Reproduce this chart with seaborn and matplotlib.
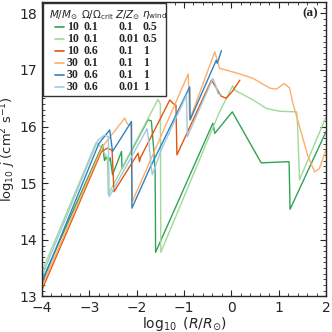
import numpy as np
import pandas as pd
import matplotlib
matplotlib.use("Agg")
import matplotlib.pyplot as plt
import seaborn as sns
from matplotlib.ticker import MultipleLocator
from matplotlib.patches import Rectangle
from matplotlib.lines import Line2D

# ---------------- data ----------------
masses = ["10", "10", "10", "30", "30", "30"]
omegas = ["0.1", "0.1", "0.6", "0.1", "0.6", "0.6"]
metals = ["0.1", "0.01", "0.1", "0.1", "0.1", "0.01"]
etas = ["0.5", "0.5", "1", "1", "1", "1"]

g1_x = [-4.0, -2.72, -2.68, -2.64, -2.60, -2.56, -2.51, -2.32, -2.31, -1.76, -1.69, -1.64, -1.61, -1.60,
        -0.39, -0.35, 0.02, 0.63, 1.22, 1.24, 2.0]
g1_y = [13.28, 15.68, 15.40, 15.47, 15.38, 15.45, 15.15, 15.56, 15.26, 16.12, 16.10, 15.60, 15.20, 13.78,
        16.06, 15.88, 16.26, 15.36, 15.38, 14.54, 15.91]

g2_x = [-4.0, -2.86, -2.80, -2.62, -2.60, -1.55, -1.50, -1.49, -0.25, 0.03, 0.08, 0.46, 0.74, 1.02, 1.38,
        1.40, 1.44, 2.0]
g2_y = [13.44, 15.71, 15.68, 15.45, 14.80, 16.48, 16.40, 13.78, 16.26, 16.72, 16.64, 16.47, 16.32, 16.27, 16.26,
        16.0, 15.06, 16.17]

o1_x = [-4.0, -2.75, -2.62, -2.52, -2.48, -1.97, -1.94, -1.92, -1.30, -1.22, -1.17, -1.15, -0.42, -0.33,
        -0.22, -0.11, 0.02, 0.18]
o1_y = [13.12, 15.55, 15.62, 15.58, 14.85, 15.53, 15.38, 15.45, 16.47, 16.40, 16.38, 15.50, 16.82, 16.70,
        16.54, 16.50, 16.62, 16.82]

o2_x = [-4.0, -2.72, -2.25, -2.20, -2.12, -2.09, -0.91, -0.88, -0.35, -0.25, 0.18, 0.46, 0.81, 0.95,
        1.05, 1.12, 1.23, 1.30, 1.44, 1.62, 1.76, 1.86, 2.0]
o2_y = [13.18, 15.65, 16.15, 16.05, 16.02, 14.68, 16.93, 16.12, 17.32, 17.03, 16.93, 16.85, 16.68, 16.66,
        16.72, 16.76, 16.68, 16.41, 16.00, 15.47, 15.20, 15.26, 15.59]

b1_x = [-4.0, -2.80, -2.57, -2.51, -2.11, -2.10, -1.72, -1.30, -0.88, -0.87, -0.32, -0.30, -0.28, -0.21]
b1_y = [13.24, 15.70, 15.94, 15.56, 16.09, 14.56, 15.27, 15.98, 16.70, 16.12, 17.17, 17.12, 17.16, 17.34]

b2_x = [-4.0, -2.82, -2.68, -2.60, -2.58, -1.78, -1.74, -1.70, -1.67, -1.48, -0.95, -0.93, -0.39, -0.33,
        -0.28, -0.21]
b2_y = [13.36, 15.76, 15.85, 15.82, 14.76, 15.96, 15.70, 15.35, 15.15, 15.59, 16.55, 15.82, 16.85, 16.72,
        16.58, 16.56]

series_x = [g1_x, g2_x, o1_x, o2_x, b1_x, b2_x]
series_y = [g1_y, g2_y, o1_y, o2_y, b1_y, b2_y]
names = ["g1", "g2", "o1", "o2", "b1", "b2"]

# ---------------- style ----------------
tab = sns.color_palette("tab20c")
colors = [tab[8], tab[10], tab[4], tab[6], tab[0], tab[2]]
palette = dict(zip(names, colors))

rows = []
for n, xs, ys in zip(names, series_x, series_y):
    for i, (x, y) in enumerate(zip(xs, ys)):
        rows.append({"series": n, "order": i, "x": x, "y": y})
df = pd.DataFrame(rows)

sns.set_style("ticks")
plt.rcParams["font.family"] = ["DejaVu Sans"]
plt.rcParams["mathtext.fontset"] = "dejavusans"

fig = plt.figure(figsize=(3.32, 3.32), dpi=100)
ax = fig.add_axes([0.1265, 0.107, 0.8555, 0.887])

sns.lineplot(data=df, x="x", y="y", hue="series", hue_order=names, palette=palette,
             sort=False, estimator=None, linewidth=1.0, legend=False, ax=ax)

ax.set_xlim(-4, 2)
ax.set_ylim(13, 18.2)
ax.xaxis.set_major_locator(MultipleLocator(1))
ax.xaxis.set_minor_locator(MultipleLocator(0.2))
ax.yaxis.set_major_locator(MultipleLocator(1))
ax.yaxis.set_minor_locator(MultipleLocator(0.1))
ax.tick_params(which="both", direction="in", top=True, right=True, labelsize=10)
ax.tick_params(axis="x", pad=3.5)
ax.tick_params(axis="y", pad=3.5)
ax.tick_params(which="major", length=4, width=0.8)
ax.tick_params(which="minor", length=2, width=0.6)
for s in ax.spines.values():
    s.set_linewidth(1.0)

ax.set_xlabel(r"$\log_{10}$ ($R/R_{\odot}$)", fontsize=10, labelpad=0)
ax.set_ylabel(r"$\log_{10}\,j$ (cm$^2$ s$^{-1}$)", fontsize=9.4)
ax.yaxis.set_label_coords(-0.083, 0.5)

# ---------------- legend (table) ----------------
ax.add_patch(Rectangle((0.005, 0.68), 0.432, 0.318, transform=ax.transAxes,
                       facecolor="white", edgecolor="#333333", linewidth=1.0, zorder=5))
hy = 0.956
hdr = [r"$M/M_{\odot}$", r"$\Omega/\Omega_{\rm crit}$", r"$Z/Z_{\odot}$", r"$\eta_{\rm wind}$"]
hx = [0.025, 0.138, 0.258, 0.352]
for t, x in zip(hdr, hx):
    ax.text(x, hy, t, transform=ax.transAxes, fontsize=7.5, ha="left", va="center", zorder=6)
row_y = [0.914, 0.874, 0.833, 0.793, 0.752, 0.712]
col_x = [0.087, 0.145, 0.269, 0.355]
for i, yy in enumerate(row_y):
    ax.add_line(Line2D([0.046, 0.077], [yy, yy], transform=ax.transAxes, color=colors[i],
                       linewidth=1.2, zorder=6))
    for cx, val in zip(col_x, [masses[i], omegas[i], metals[i], etas[i]]):
        ax.text(cx, yy, val, transform=ax.transAxes, fontsize=8.5, fontweight="bold",
                family="Liberation Serif", ha="left", va="center", zorder=6)

ax.text(0.972, 0.963, "(a)", transform=ax.transAxes, fontsize=9.5, fontweight="bold",
        family="Liberation Serif", ha="right", va="center")

fig.savefig("out.png", dpi=100)
